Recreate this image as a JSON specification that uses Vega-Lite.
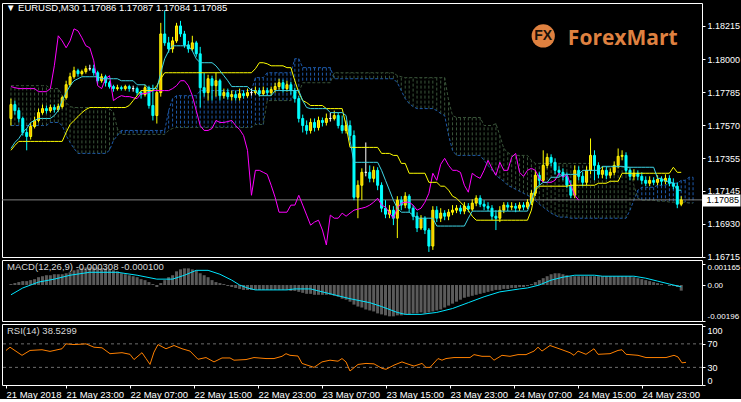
{
"$schema": "https://vega.github.io/schema/vega-lite/v6.json",
"background": "#000000",
"padding": {"left": 1, "top": 2, "right": -6, "bottom": 0},
"bounds": "flush",
"spacing": 3,
"config": {
  "view": {"stroke": "#FFFFFF", "strokeWidth": 1},
  "axis": {"labelFont": "Liberation Sans", "labelFontSize": 9, "labelColor": "#FFFFFF", "tickColor": "#FFFFFF", "tickSize": 3, "labelPadding": 2, "domain": false, "grid": false, "title": null, "labelOverlap": false, "labelFlush": false, "labelBound": false},
  "title": {"font": "Liberation Sans", "fontSize": 9.5, "fontWeight": "normal", "anchor": "start", "frame": "group", "baseline": "middle"}
},
"datasets": {
"bars": [
{"i":0,"open":1.17614,"high":1.17743,"low":1.17568,"close":1.17704,"tenkan":1.17419,"kijun":1.17407,"chikou":1.17821,"spanA":1.17568,"spanB":1.17827,"macd":0.000054},
{"i":1,"open":1.17704,"high":1.1773,"low":1.17639,"close":1.17665,"tenkan":1.17458,"kijun":1.17439,"chikou":1.17814,"spanA":1.17568,"spanB":1.17827,"macd":0.000107},
{"i":2,"open":1.17665,"high":1.17685,"low":1.17588,"close":1.17614,"tenkan":1.17484,"kijun":1.17465,"chikou":1.17808,"spanA":1.17568,"spanB":1.17827,"macd":0.000161},
{"i":3,"open":1.17614,"high":1.17626,"low":1.17503,"close":1.17523,"tenkan":1.17523,"kijun":1.17465,"chikou":1.17808,"spanA":1.17568,"spanB":1.17827,"macd":0.000214},
{"i":4,"open":1.17523,"high":1.17549,"low":1.17407,"close":1.17497,"tenkan":1.17549,"kijun":1.17465,"chikou":1.17808,"spanA":1.17568,"spanB":1.17827,"macd":0.000214},
{"i":5,"open":1.17497,"high":1.17588,"low":1.17477,"close":1.17562,"tenkan":1.17588,"kijun":1.17465,"chikou":1.17808,"spanA":1.17568,"spanB":1.17827,"macd":0.000268},
{"i":6,"open":1.17562,"high":1.17626,"low":1.17549,"close":1.17601,"tenkan":1.17601,"kijun":1.17465,"chikou":1.17808,"spanA":1.17568,"spanB":1.17827,"macd":0.000322},
{"i":7,"open":1.17601,"high":1.17678,"low":1.17588,"close":1.17652,"tenkan":1.17614,"kijun":1.17465,"chikou":1.17788,"spanA":1.17568,"spanB":1.17827,"macd":0.000429},
{"i":8,"open":1.17652,"high":1.17704,"low":1.17639,"close":1.17678,"tenkan":1.17614,"kijun":1.17465,"chikou":1.17788,"spanA":1.17568,"spanB":1.17827,"macd":0.000482},
{"i":9,"open":1.17678,"high":1.17698,"low":1.17646,"close":1.17665,"tenkan":1.17614,"kijun":1.17465,"chikou":1.17788,"spanA":1.17568,"spanB":1.17827,"macd":0.000536},
{"i":10,"open":1.17665,"high":1.17704,"low":1.17652,"close":1.17685,"tenkan":1.17614,"kijun":1.17465,"chikou":1.17808,"spanA":1.17588,"spanB":1.17808,"macd":0.000536},
{"i":11,"open":1.17685,"high":1.17704,"low":1.17652,"close":1.17672,"tenkan":1.17633,"kijun":1.17465,"chikou":1.17956,"spanA":1.17588,"spanB":1.17808,"macd":0.00059},
{"i":12,"open":1.17672,"high":1.17711,"low":1.17659,"close":1.17691,"tenkan":1.17665,"kijun":1.17465,"chikou":1.18151,"spanA":1.17588,"spanB":1.17808,"macd":0.00059},
{"i":13,"open":1.17691,"high":1.17762,"low":1.17678,"close":1.17749,"tenkan":1.1773,"kijun":1.17465,"chikou":1.18118,"spanA":1.17568,"spanB":1.17762,"macd":0.00059},
{"i":14,"open":1.17749,"high":1.17859,"low":1.17736,"close":1.17833,"tenkan":1.17782,"kijun":1.17523,"chikou":1.18073,"spanA":1.17503,"spanB":1.17717,"macd":0.000643},
{"i":15,"open":1.17833,"high":1.17911,"low":1.17821,"close":1.17885,"tenkan":1.17827,"kijun":1.17575,"chikou":1.18118,"spanA":1.17458,"spanB":1.17691,"macd":0.000697},
{"i":16,"open":1.17885,"high":1.1795,"low":1.17872,"close":1.17924,"tenkan":1.17859,"kijun":1.17601,"chikou":1.18196,"spanA":1.17419,"spanB":1.17685,"macd":0.000804},
{"i":17,"open":1.17924,"high":1.17937,"low":1.17885,"close":1.17905,"tenkan":1.17872,"kijun":1.17626,"chikou":1.18183,"spanA":1.17387,"spanB":1.17685,"macd":0.000858},
{"i":18,"open":1.17905,"high":1.17931,"low":1.17892,"close":1.17918,"tenkan":1.17885,"kijun":1.17652,"chikou":1.18138,"spanA":1.17387,"spanB":1.17685,"macd":0.000911},
{"i":19,"open":1.17918,"high":1.17956,"low":1.17905,"close":1.17937,"tenkan":1.17885,"kijun":1.17672,"chikou":1.18086,"spanA":1.17387,"spanB":1.17685,"macd":0.000965},
{"i":20,"open":1.17937,"high":1.17963,"low":1.17924,"close":1.17937,"tenkan":1.17885,"kijun":1.17685,"chikou":1.18073,"spanA":1.17387,"spanB":1.17685,"macd":0.000965},
{"i":21,"open":1.17937,"high":1.17963,"low":1.17892,"close":1.17911,"tenkan":1.17885,"kijun":1.17685,"chikou":1.17989,"spanA":1.17387,"spanB":1.17685,"macd":0.000965},
{"i":22,"open":1.17911,"high":1.17924,"low":1.1784,"close":1.17859,"tenkan":1.17885,"kijun":1.17685,"chikou":1.17827,"spanA":1.17387,"spanB":1.17685,"macd":0.000965},
{"i":23,"open":1.17859,"high":1.17905,"low":1.17846,"close":1.17885,"tenkan":1.17872,"kijun":1.17685,"chikou":1.17808,"spanA":1.17387,"spanB":1.17685,"macd":0.000911},
{"i":24,"open":1.17885,"high":1.17898,"low":1.17821,"close":1.17846,"tenkan":1.17872,"kijun":1.17685,"chikou":1.17872,"spanA":1.17387,"spanB":1.17685,"macd":0.000911},
{"i":25,"open":1.17846,"high":1.17859,"low":1.17808,"close":1.17821,"tenkan":1.17872,"kijun":1.17685,"chikou":1.17892,"spanA":1.17407,"spanB":1.17678,"macd":0.000858},
{"i":26,"open":1.17821,"high":1.17833,"low":1.17788,"close":1.17808,"tenkan":1.17872,"kijun":1.17685,"chikou":1.1773,"spanA":1.17471,"spanB":1.17652,"macd":0.000804},
{"i":27,"open":1.17808,"high":1.17833,"low":1.17795,"close":1.17814,"tenkan":1.17872,"kijun":1.17685,"chikou":1.17749,"spanA":1.17503,"spanB":1.17549,"macd":0.00075},
{"i":28,"open":1.17814,"high":1.17827,"low":1.17795,"close":1.17808,"tenkan":1.17859,"kijun":1.17685,"chikou":1.17762,"spanA":1.17536,"spanB":1.1751,"macd":0.000643},
{"i":29,"open":1.17808,"high":1.17833,"low":1.17795,"close":1.17821,"tenkan":1.17859,"kijun":1.17685,"chikou":1.17756,"spanA":1.17536,"spanB":1.1751,"macd":0.00059},
{"i":30,"open":1.17821,"high":1.17833,"low":1.17788,"close":1.17808,"tenkan":1.17859,"kijun":1.17698,"chikou":1.17756,"spanA":1.17536,"spanB":1.1751,"macd":0.000536},
{"i":31,"open":1.17808,"high":1.17827,"low":1.17788,"close":1.17808,"tenkan":1.17859,"kijun":1.1773,"chikou":1.17749,"spanA":1.17536,"spanB":1.1751,"macd":0.000482},
{"i":32,"open":1.17808,"high":1.17821,"low":1.17762,"close":1.17782,"tenkan":1.17833,"kijun":1.17762,"chikou":1.17743,"spanA":1.17536,"spanB":1.1751,"macd":0.000429},
{"i":33,"open":1.17782,"high":1.17795,"low":1.17743,"close":1.17769,"tenkan":1.17833,"kijun":1.17795,"chikou":1.17775,"spanA":1.17536,"spanB":1.1751,"macd":0.000322},
{"i":34,"open":1.17769,"high":1.17833,"low":1.17756,"close":1.17814,"tenkan":1.17833,"kijun":1.17795,"chikou":1.17775,"spanA":1.17536,"spanB":1.1751,"macd":0.000268},
{"i":35,"open":1.17814,"high":1.17827,"low":1.17678,"close":1.17698,"tenkan":1.17808,"kijun":1.17795,"chikou":1.17782,"spanA":1.17536,"spanB":1.1751,"macd":0.000161},
{"i":36,"open":1.17698,"high":1.17833,"low":1.17601,"close":1.17633,"tenkan":1.17808,"kijun":1.17795,"chikou":1.17795,"spanA":1.17536,"spanB":1.1751,"macd":0.000054},
{"i":37,"open":1.17633,"high":1.17808,"low":1.17581,"close":1.17782,"tenkan":1.17808,"kijun":1.17827,"chikou":1.17795,"spanA":1.17536,"spanB":1.1751,"macd":-0.000107},
{"i":38,"open":1.17782,"high":1.18235,"low":1.17756,"close":1.18163,"tenkan":1.17911,"kijun":1.17872,"chikou":1.17795,"spanA":1.17536,"spanB":1.1751,"macd":0.000107},
{"i":39,"open":1.18163,"high":1.18312,"low":1.18086,"close":1.18105,"tenkan":1.18002,"kijun":1.17911,"chikou":1.17795,"spanA":1.17536,"spanB":1.1751,"macd":0.000268},
{"i":40,"open":1.18105,"high":1.18144,"low":1.18041,"close":1.18066,"tenkan":1.18053,"kijun":1.17911,"chikou":1.17795,"spanA":1.17665,"spanB":1.17536,"macd":0.000429},
{"i":41,"open":1.18066,"high":1.18144,"low":1.18041,"close":1.18118,"tenkan":1.18086,"kijun":1.17911,"chikou":1.17808,"spanA":1.17743,"spanB":1.17549,"macd":0.000536},
{"i":42,"open":1.18118,"high":1.18235,"low":1.18105,"close":1.18215,"tenkan":1.18086,"kijun":1.17911,"chikou":1.17827,"spanA":1.17762,"spanB":1.17555,"macd":0.00075},
{"i":43,"open":1.18215,"high":1.18248,"low":1.18144,"close":1.18163,"tenkan":1.18086,"kijun":1.17911,"chikou":1.17859,"spanA":1.17762,"spanB":1.17555,"macd":0.000858},
{"i":44,"open":1.18163,"high":1.18183,"low":1.18073,"close":1.18092,"tenkan":1.18086,"kijun":1.17911,"chikou":1.17859,"spanA":1.17762,"spanB":1.17555,"macd":0.000911},
{"i":45,"open":1.18092,"high":1.18118,"low":1.18041,"close":1.18066,"tenkan":1.18086,"kijun":1.17911,"chikou":1.17827,"spanA":1.17762,"spanB":1.17555,"macd":0.000911},
{"i":46,"open":1.18066,"high":1.18151,"low":1.18053,"close":1.18105,"tenkan":1.18053,"kijun":1.17911,"chikou":1.17762,"spanA":1.17762,"spanB":1.17555,"macd":0.000858},
{"i":47,"open":1.18105,"high":1.18118,"low":1.18015,"close":1.18034,"tenkan":1.18002,"kijun":1.17911,"chikou":1.17665,"spanA":1.17762,"spanB":1.17555,"macd":0.000804},
{"i":48,"open":1.18034,"high":1.18079,"low":1.17685,"close":1.17814,"tenkan":1.17976,"kijun":1.17911,"chikou":1.17568,"spanA":1.17795,"spanB":1.17555,"macd":0.000643},
{"i":49,"open":1.17814,"high":1.17911,"low":1.17756,"close":1.17782,"tenkan":1.17976,"kijun":1.17911,"chikou":1.17536,"spanA":1.17795,"spanB":1.17555,"macd":0.000536},
{"i":50,"open":1.17782,"high":1.17898,"low":1.1773,"close":1.17872,"tenkan":1.17976,"kijun":1.17911,"chikou":1.17536,"spanA":1.17795,"spanB":1.17555,"macd":0.000429},
{"i":51,"open":1.17872,"high":1.17892,"low":1.1773,"close":1.17827,"tenkan":1.17976,"kijun":1.17911,"chikou":1.17549,"spanA":1.17795,"spanB":1.17555,"macd":0.000268},
{"i":52,"open":1.17827,"high":1.17911,"low":1.17756,"close":1.17859,"tenkan":1.17956,"kijun":1.17911,"chikou":1.17601,"spanA":1.17795,"spanB":1.17555,"macd":0.000161},
{"i":53,"open":1.17859,"high":1.17872,"low":1.1773,"close":1.17762,"tenkan":1.17924,"kijun":1.17911,"chikou":1.17588,"spanA":1.17795,"spanB":1.17555,"macd":0.000107},
{"i":54,"open":1.17762,"high":1.17808,"low":1.17743,"close":1.17782,"tenkan":1.17892,"kijun":1.17911,"chikou":1.17588,"spanA":1.17795,"spanB":1.17555,"macd":0.000054},
{"i":55,"open":1.17782,"high":1.17808,"low":1.17736,"close":1.17756,"tenkan":1.17859,"kijun":1.17911,"chikou":1.17594,"spanA":1.17795,"spanB":1.17555,"macd":-0.000054},
{"i":56,"open":1.17756,"high":1.17795,"low":1.1773,"close":1.17769,"tenkan":1.17821,"kijun":1.17911,"chikou":1.17601,"spanA":1.17795,"spanB":1.17555,"macd":-0.000107},
{"i":57,"open":1.17769,"high":1.17795,"low":1.1773,"close":1.17749,"tenkan":1.17821,"kijun":1.17911,"chikou":1.17568,"spanA":1.17795,"spanB":1.17555,"macd":-0.000161},
{"i":58,"open":1.17749,"high":1.17808,"low":1.1773,"close":1.17775,"tenkan":1.17821,"kijun":1.17911,"chikou":1.17542,"spanA":1.17795,"spanB":1.17555,"macd":-0.000214},
{"i":59,"open":1.17775,"high":1.17795,"low":1.17743,"close":1.17762,"tenkan":1.17821,"kijun":1.17911,"chikou":1.17503,"spanA":1.17795,"spanB":1.17555,"macd":-0.000268},
{"i":60,"open":1.17762,"high":1.17808,"low":1.17749,"close":1.17782,"tenkan":1.17821,"kijun":1.17911,"chikou":1.17407,"spanA":1.17795,"spanB":1.17555,"macd":-0.000268},
{"i":61,"open":1.17782,"high":1.17808,"low":1.17762,"close":1.17782,"tenkan":1.17795,"kijun":1.17911,"chikou":1.17115,"spanA":1.17795,"spanB":1.17555,"macd":-0.000268},
{"i":62,"open":1.17782,"high":1.17821,"low":1.17769,"close":1.17795,"tenkan":1.17795,"kijun":1.17937,"chikou":1.17277,"spanA":1.17879,"spanB":1.17575,"macd":-0.000268},
{"i":63,"open":1.17795,"high":1.17814,"low":1.17756,"close":1.17775,"tenkan":1.17762,"kijun":1.17976,"chikou":1.17277,"spanA":1.17879,"spanB":1.17575,"macd":-0.000268},
{"i":64,"open":1.17775,"high":1.17821,"low":1.17762,"close":1.17795,"tenkan":1.17762,"kijun":1.17976,"chikou":1.17264,"spanA":1.17879,"spanB":1.17575,"macd":-0.000268},
{"i":65,"open":1.17795,"high":1.17814,"low":1.17762,"close":1.17782,"tenkan":1.17762,"kijun":1.17969,"chikou":1.17251,"spanA":1.17911,"spanB":1.1773,"macd":-0.000268},
{"i":66,"open":1.17782,"high":1.17821,"low":1.17762,"close":1.17801,"tenkan":1.17762,"kijun":1.17956,"chikou":1.1718,"spanA":1.17911,"spanB":1.1773,"macd":-0.000268},
{"i":67,"open":1.17801,"high":1.17846,"low":1.17782,"close":1.17821,"tenkan":1.17795,"kijun":1.17956,"chikou":1.17102,"spanA":1.17911,"spanB":1.1773,"macd":-0.000268},
{"i":68,"open":1.17821,"high":1.17872,"low":1.17801,"close":1.17846,"tenkan":1.17795,"kijun":1.17956,"chikou":1.17005,"spanA":1.17911,"spanB":1.1773,"macd":-0.000268},
{"i":69,"open":1.17846,"high":1.17866,"low":1.17782,"close":1.17808,"tenkan":1.17795,"kijun":1.17956,"chikou":1.17005,"spanA":1.17911,"spanB":1.1773,"macd":-0.000268},
{"i":70,"open":1.17808,"high":1.17859,"low":1.17788,"close":1.17833,"tenkan":1.17795,"kijun":1.17944,"chikou":1.17005,"spanA":1.17911,"spanB":1.1773,"macd":-0.000268},
{"i":71,"open":1.17833,"high":1.17853,"low":1.17769,"close":1.17795,"tenkan":1.17795,"kijun":1.17944,"chikou":1.17051,"spanA":1.17911,"spanB":1.1773,"macd":-0.000322},
{"i":72,"open":1.17795,"high":1.17814,"low":1.17717,"close":1.17743,"tenkan":1.17795,"kijun":1.17859,"chikou":1.17051,"spanA":1.18002,"spanB":1.17782,"macd":-0.000322},
{"i":73,"open":1.17743,"high":1.17762,"low":1.17588,"close":1.17614,"tenkan":1.17795,"kijun":1.17782,"chikou":1.17115,"spanA":1.18002,"spanB":1.17782,"macd":-0.000375},
{"i":74,"open":1.17614,"high":1.17639,"low":1.17523,"close":1.17568,"tenkan":1.1773,"kijun":1.1773,"chikou":1.17051,"spanA":1.17944,"spanB":1.17846,"macd":-0.000429},
{"i":75,"open":1.17568,"high":1.17601,"low":1.1751,"close":1.17536,"tenkan":1.17685,"kijun":1.17717,"chikou":1.16986,"spanA":1.17944,"spanB":1.17846,"macd":-0.000482},
{"i":76,"open":1.17536,"high":1.17614,"low":1.17516,"close":1.17588,"tenkan":1.17678,"kijun":1.17698,"chikou":1.16921,"spanA":1.17944,"spanB":1.17846,"macd":-0.000482},
{"i":77,"open":1.17588,"high":1.17614,"low":1.17529,"close":1.17555,"tenkan":1.17678,"kijun":1.17698,"chikou":1.16941,"spanA":1.17944,"spanB":1.17846,"macd":-0.000536},
{"i":78,"open":1.17555,"high":1.17626,"low":1.17536,"close":1.17601,"tenkan":1.17678,"kijun":1.17698,"chikou":1.16953,"spanA":1.17944,"spanB":1.17846,"macd":-0.000536},
{"i":79,"open":1.17601,"high":1.1762,"low":1.17562,"close":1.17588,"tenkan":1.17678,"kijun":1.17698,"chikou":1.16889,"spanA":1.17944,"spanB":1.17846,"macd":-0.000536},
{"i":80,"open":1.17588,"high":1.17646,"low":1.17568,"close":1.17614,"tenkan":1.17678,"kijun":1.17678,"chikou":1.16792,"spanA":1.17944,"spanB":1.17846,"macd":-0.000536},
{"i":81,"open":1.17614,"high":1.17652,"low":1.17594,"close":1.17614,"tenkan":1.17652,"kijun":1.17678,"chikou":1.16986,"spanA":1.17944,"spanB":1.17846,"macd":-0.000536},
{"i":82,"open":1.17614,"high":1.17665,"low":1.17601,"close":1.17633,"tenkan":1.17652,"kijun":1.17678,"chikou":1.16966,"spanA":1.17872,"spanB":1.17911,"macd":-0.00059},
{"i":83,"open":1.17633,"high":1.17652,"low":1.17549,"close":1.17568,"tenkan":1.17652,"kijun":1.17678,"chikou":1.16966,"spanA":1.17872,"spanB":1.17911,"macd":-0.000643},
{"i":84,"open":1.17568,"high":1.17633,"low":1.17516,"close":1.17536,"tenkan":1.17652,"kijun":1.17678,"chikou":1.16999,"spanA":1.17872,"spanB":1.17911,"macd":-0.00075},
{"i":85,"open":1.17536,"high":1.17601,"low":1.17516,"close":1.17568,"tenkan":1.17633,"kijun":1.17568,"chikou":1.16979,"spanA":1.17872,"spanB":1.17911,"macd":-0.000804},
{"i":86,"open":1.17568,"high":1.17601,"low":1.17471,"close":1.17503,"tenkan":1.17471,"kijun":1.17426,"chikou":1.16999,"spanA":1.17872,"spanB":1.17911,"macd":-0.000911},
{"i":87,"open":1.17503,"high":1.17536,"low":1.17083,"close":1.17102,"tenkan":1.17329,"kijun":1.17426,"chikou":1.17018,"spanA":1.17872,"spanB":1.17911,"macd":-0.001072},
{"i":88,"open":1.17102,"high":1.17212,"low":1.16966,"close":1.1718,"tenkan":1.17329,"kijun":1.17426,"chikou":1.17025,"spanA":1.17872,"spanB":1.17911,"macd":-0.001179},
{"i":89,"open":1.1718,"high":1.1729,"low":1.17083,"close":1.17264,"tenkan":1.17329,"kijun":1.17426,"chikou":1.17031,"spanA":1.17872,"spanB":1.17911,"macd":-0.001233},
{"i":90,"open":1.17264,"high":1.17458,"low":1.17238,"close":1.17264,"tenkan":1.17329,"kijun":1.17426,"chikou":1.17038,"spanA":1.17872,"spanB":1.17911,"macd":-0.00134},
{"i":91,"open":1.17264,"high":1.17309,"low":1.17199,"close":1.17225,"tenkan":1.17329,"kijun":1.17426,"chikou":1.17051,"spanA":1.17872,"spanB":1.17911,"macd":-0.001394},
{"i":92,"open":1.17225,"high":1.17303,"low":1.17199,"close":1.17277,"tenkan":1.17329,"kijun":1.17426,"chikou":1.1707,"spanA":1.17872,"spanB":1.17911,"macd":-0.001447},
{"i":93,"open":1.17277,"high":1.17297,"low":1.17148,"close":1.1718,"tenkan":1.17329,"kijun":1.17426,"chikou":1.17096,"spanA":1.17872,"spanB":1.17911,"macd":-0.001554},
{"i":94,"open":1.1718,"high":1.17199,"low":1.17005,"close":1.17031,"tenkan":1.17277,"kijun":1.17387,"chikou":1.17051,"spanA":1.17872,"spanB":1.17911,"macd":-0.001608},
{"i":95,"open":1.17031,"high":1.17083,"low":1.16966,"close":1.16992,"tenkan":1.17212,"kijun":1.17387,"chikou":1.17038,"spanA":1.17872,"spanB":1.17911,"macd":-0.001662},
{"i":96,"open":1.16992,"high":1.17051,"low":1.16966,"close":1.17018,"tenkan":1.17148,"kijun":1.17387,"chikou":1.16999,"spanA":1.17872,"spanB":1.17911,"macd":-0.001715},
{"i":97,"open":1.17018,"high":1.17044,"low":1.16921,"close":1.16966,"tenkan":1.17083,"kijun":1.17374,"chikou":1.16966,"spanA":1.17872,"spanB":1.17911,"macd":-0.001715},
{"i":98,"open":1.16966,"high":1.17109,"low":1.16837,"close":1.17083,"tenkan":1.17031,"kijun":1.17374,"chikou":1.17031,"spanA":1.17846,"spanB":1.17892,"macd":-0.001662},
{"i":99,"open":1.17083,"high":1.17109,"low":1.17018,"close":1.17051,"tenkan":1.17005,"kijun":1.17322,"chikou":1.17064,"spanA":1.17795,"spanB":1.17885,"macd":-0.001662},
{"i":100,"open":1.17051,"high":1.17135,"low":1.17031,"close":1.17109,"tenkan":1.17005,"kijun":1.17322,"chikou":1.1707,"spanA":1.17743,"spanB":1.17879,"macd":-0.001608},
{"i":101,"open":1.17109,"high":1.17122,"low":1.17005,"close":1.17031,"tenkan":1.17005,"kijun":1.17258,"chikou":1.1707,"spanA":1.17711,"spanB":1.17879,"macd":-0.001608},
{"i":102,"open":1.17031,"high":1.17051,"low":1.16953,"close":1.16979,"tenkan":1.16986,"kijun":1.17258,"chikou":1.17051,"spanA":1.17691,"spanB":1.17879,"macd":-0.001554},
{"i":103,"open":1.16979,"high":1.17005,"low":1.16876,"close":1.16902,"tenkan":1.16966,"kijun":1.17258,"chikou":1.17018,"spanA":1.17678,"spanB":1.17879,"macd":-0.001554},
{"i":104,"open":1.16902,"high":1.16986,"low":1.16889,"close":1.16966,"tenkan":1.16966,"kijun":1.17258,"chikou":1.17031,"spanA":1.17678,"spanB":1.17879,"macd":-0.001501},
{"i":105,"open":1.16966,"high":1.16979,"low":1.16863,"close":1.16889,"tenkan":1.16966,"kijun":1.17258,"chikou":1.1707,"spanA":1.17678,"spanB":1.17879,"macd":-0.001554},
{"i":106,"open":1.16889,"high":1.16902,"low":1.16747,"close":1.16785,"tenkan":1.16966,"kijun":1.17199,"chikou":1.17128,"spanA":1.17678,"spanB":1.17879,"macd":-0.001501},
{"i":107,"open":1.16785,"high":1.17044,"low":1.1676,"close":1.17018,"tenkan":1.16966,"kijun":1.17199,"chikou":1.17258,"spanA":1.17678,"spanB":1.17879,"macd":-0.001447},
{"i":108,"open":1.17018,"high":1.17044,"low":1.16941,"close":1.16966,"tenkan":1.16915,"kijun":1.17199,"chikou":1.17212,"spanA":1.17665,"spanB":1.17879,"macd":-0.001394},
{"i":109,"open":1.16966,"high":1.17031,"low":1.16941,"close":1.16999,"tenkan":1.16915,"kijun":1.17174,"chikou":1.17316,"spanA":1.17646,"spanB":1.17879,"macd":-0.00134},
{"i":110,"open":1.16999,"high":1.17018,"low":1.16953,"close":1.16979,"tenkan":1.16915,"kijun":1.17174,"chikou":1.17355,"spanA":1.17633,"spanB":1.17879,"macd":-0.001233},
{"i":111,"open":1.16979,"high":1.17025,"low":1.16953,"close":1.17005,"tenkan":1.16915,"kijun":1.17148,"chikou":1.17309,"spanA":1.17503,"spanB":1.1773,"macd":-0.001126},
{"i":112,"open":1.17005,"high":1.17051,"low":1.16986,"close":1.17018,"tenkan":1.16915,"kijun":1.17109,"chikou":1.17277,"spanA":1.17407,"spanB":1.17633,"macd":-0.001018},
{"i":113,"open":1.17018,"high":1.17051,"low":1.16999,"close":1.17031,"tenkan":1.16915,"kijun":1.17096,"chikou":1.17277,"spanA":1.17374,"spanB":1.1762,"macd":-0.000911},
{"i":114,"open":1.17031,"high":1.17051,"low":1.16992,"close":1.17012,"tenkan":1.16915,"kijun":1.1707,"chikou":1.17264,"spanA":1.17374,"spanB":1.1762,"macd":-0.000804},
{"i":115,"open":1.17012,"high":1.1707,"low":1.16992,"close":1.17044,"tenkan":1.16915,"kijun":1.17044,"chikou":1.1718,"spanA":1.17374,"spanB":1.1762,"macd":-0.000697},
{"i":116,"open":1.17044,"high":1.17064,"low":1.17005,"close":1.17025,"tenkan":1.16966,"kijun":1.17018,"chikou":1.17135,"spanA":1.17374,"spanB":1.1762,"macd":-0.000643},
{"i":117,"open":1.17025,"high":1.17089,"low":1.17012,"close":1.17064,"tenkan":1.17012,"kijun":1.16979,"chikou":1.17258,"spanA":1.17374,"spanB":1.1762,"macd":-0.00059},
{"i":118,"open":1.17064,"high":1.17115,"low":1.17044,"close":1.17096,"tenkan":1.17012,"kijun":1.16953,"chikou":1.17238,"spanA":1.17374,"spanB":1.1762,"macd":-0.000536},
{"i":119,"open":1.17096,"high":1.17115,"low":1.17038,"close":1.17057,"tenkan":1.17012,"kijun":1.16953,"chikou":1.17225,"spanA":1.17374,"spanB":1.1762,"macd":-0.000482},
{"i":120,"open":1.17057,"high":1.17083,"low":1.17018,"close":1.17044,"tenkan":1.17012,"kijun":1.16953,"chikou":1.17277,"spanA":1.17342,"spanB":1.17568,"macd":-0.000429},
{"i":121,"open":1.17044,"high":1.1707,"low":1.17012,"close":1.17031,"tenkan":1.17012,"kijun":1.16953,"chikou":1.17342,"spanA":1.17309,"spanB":1.17568,"macd":-0.000375},
{"i":122,"open":1.17031,"high":1.17051,"low":1.16953,"close":1.16979,"tenkan":1.17012,"kijun":1.16953,"chikou":1.1729,"spanA":1.17277,"spanB":1.17568,"macd":-0.000322},
{"i":123,"open":1.16979,"high":1.17018,"low":1.16889,"close":1.16966,"tenkan":1.17012,"kijun":1.16953,"chikou":1.17245,"spanA":1.17245,"spanB":1.17581,"macd":-0.000268},
{"i":124,"open":1.16966,"high":1.17044,"low":1.16941,"close":1.17018,"tenkan":1.17012,"kijun":1.16953,"chikou":1.17329,"spanA":1.17225,"spanB":1.17503,"macd":-0.000268},
{"i":125,"open":1.17018,"high":1.1707,"low":1.16999,"close":1.17051,"tenkan":1.17012,"kijun":1.16953,"chikou":1.17277,"spanA":1.17206,"spanB":1.17419,"macd":-0.000214},
{"i":126,"open":1.17051,"high":1.1707,"low":1.17012,"close":1.17038,"tenkan":1.17012,"kijun":1.16953,"chikou":1.17277,"spanA":1.1718,"spanB":1.17394,"macd":-0.000214},
{"i":127,"open":1.17038,"high":1.1707,"low":1.17018,"close":1.17044,"tenkan":1.17012,"kijun":1.16953,"chikou":1.17361,"spanA":1.17167,"spanB":1.17374,"macd":-0.000161},
{"i":128,"open":1.17044,"high":1.17064,"low":1.17005,"close":1.17031,"tenkan":1.17012,"kijun":1.16953,"chikou":1.17387,"spanA":1.17154,"spanB":1.17374,"macd":-0.000161},
{"i":129,"open":1.17031,"high":1.1707,"low":1.17012,"close":1.17051,"tenkan":1.17012,"kijun":1.16953,"chikou":1.17264,"spanA":1.17141,"spanB":1.17374,"macd":-0.000107},
{"i":130,"open":1.17051,"high":1.1707,"low":1.17018,"close":1.17038,"tenkan":1.17012,"kijun":1.16953,"chikou":1.17238,"spanA":1.17128,"spanB":1.17374,"macd":-0.000107},
{"i":131,"open":1.17038,"high":1.17089,"low":1.17025,"close":1.1707,"tenkan":1.17012,"kijun":1.16953,"chikou":1.17277,"spanA":1.17115,"spanB":1.17374,"macd":-0.000054},
{"i":132,"open":1.1707,"high":1.17148,"low":1.17051,"close":1.17128,"tenkan":1.17083,"kijun":1.17018,"chikou":1.1729,"spanA":1.17102,"spanB":1.17342,"macd":0.000054},
{"i":133,"open":1.17128,"high":1.17277,"low":1.17109,"close":1.17245,"tenkan":1.17161,"kijun":1.17148,"chikou":1.17277,"spanA":1.17083,"spanB":1.17322,"macd":0.000161},
{"i":134,"open":1.17245,"high":1.17264,"low":1.1718,"close":1.17212,"tenkan":1.1718,"kijun":1.17174,"chikou":1.17225,"spanA":1.17057,"spanB":1.17322,"macd":0.000268},
{"i":135,"open":1.17212,"high":1.17407,"low":1.17199,"close":1.17309,"tenkan":1.17199,"kijun":1.17174,"chikou":1.17199,"spanA":1.17038,"spanB":1.17322,"macd":0.000375},
{"i":136,"open":1.17309,"high":1.17387,"low":1.1729,"close":1.17361,"tenkan":1.17199,"kijun":1.17174,"chikou":1.17199,"spanA":1.17018,"spanB":1.17322,"macd":0.000482},
{"i":137,"open":1.17361,"high":1.17381,"low":1.17303,"close":1.17329,"tenkan":1.17232,"kijun":1.17174,"chikou":1.17199,"spanA":1.16999,"spanB":1.17322,"macd":0.00059},
{"i":138,"open":1.17329,"high":1.17355,"low":1.17251,"close":1.17277,"tenkan":1.17232,"kijun":1.17174,"chikou":1.17212,"spanA":1.16986,"spanB":1.17322,"macd":0.000643},
{"i":139,"open":1.17277,"high":1.17303,"low":1.17238,"close":1.17264,"tenkan":1.17232,"kijun":1.17174,"chikou":1.17258,"spanA":1.16973,"spanB":1.17322,"macd":0.000643},
{"i":140,"open":1.17264,"high":1.1729,"low":1.17212,"close":1.17238,"tenkan":1.17251,"kijun":1.17174,"chikou":1.17232,"spanA":1.16973,"spanB":1.17322,"macd":0.00059},
{"i":141,"open":1.17238,"high":1.17264,"low":1.17161,"close":1.1718,"tenkan":1.17251,"kijun":1.17174,"chikou":1.17251,"spanA":1.16973,"spanB":1.17322,"macd":0.000536},
{"i":142,"open":1.1718,"high":1.17212,"low":1.17096,"close":1.17115,"tenkan":1.17251,"kijun":1.1718,"chikou":1.1718,"spanA":1.16966,"spanB":1.17322,"macd":0.000482},
{"i":143,"open":1.17115,"high":1.17309,"low":1.17096,"close":1.17277,"tenkan":1.17251,"kijun":1.1718,"chikou":1.17115,"spanA":1.16966,"spanB":1.17322,"macd":0.000482},
{"i":144,"open":1.17277,"high":1.17303,"low":1.17212,"close":1.17238,"tenkan":1.17251,"kijun":1.1718,"chikou":1.17083,"spanA":1.16966,"spanB":1.17322,"macd":0.000482},
{"i":145,"open":1.17238,"high":1.17264,"low":1.17174,"close":1.17199,"tenkan":1.17277,"kijun":1.1718,"spanA":1.16966,"spanB":1.17322,"macd":0.000482},
{"i":146,"open":1.17199,"high":1.17303,"low":1.1718,"close":1.17277,"tenkan":1.17277,"kijun":1.1718,"spanA":1.16966,"spanB":1.17322,"macd":0.000482},
{"i":147,"open":1.17277,"high":1.17484,"low":1.17251,"close":1.17374,"tenkan":1.17277,"kijun":1.1718,"spanA":1.16966,"spanB":1.17322,"macd":0.000482},
{"i":148,"open":1.17374,"high":1.17407,"low":1.17212,"close":1.17309,"tenkan":1.17277,"kijun":1.1718,"spanA":1.16966,"spanB":1.17322,"macd":0.000482},
{"i":149,"open":1.17309,"high":1.17329,"low":1.17225,"close":1.17251,"tenkan":1.17277,"kijun":1.17193,"spanA":1.16966,"spanB":1.17297,"macd":0.000482},
{"i":150,"open":1.17251,"high":1.17303,"low":1.17225,"close":1.17277,"tenkan":1.17303,"kijun":1.17193,"spanA":1.16966,"spanB":1.17297,"macd":0.000482},
{"i":151,"open":1.17277,"high":1.17303,"low":1.17219,"close":1.17245,"tenkan":1.17303,"kijun":1.17193,"spanA":1.16966,"spanB":1.17297,"macd":0.000482},
{"i":152,"open":1.17245,"high":1.1729,"low":1.17225,"close":1.17264,"tenkan":1.17303,"kijun":1.17206,"spanA":1.16966,"spanB":1.17297,"macd":0.000482},
{"i":153,"open":1.17264,"high":1.17335,"low":1.17245,"close":1.17309,"tenkan":1.17303,"kijun":1.17206,"spanA":1.16966,"spanB":1.17297,"macd":0.000482},
{"i":154,"open":1.17309,"high":1.17419,"low":1.1729,"close":1.17368,"tenkan":1.17303,"kijun":1.17206,"spanA":1.16966,"spanB":1.17297,"macd":0.000482},
{"i":155,"open":1.17368,"high":1.17407,"low":1.17342,"close":1.17374,"tenkan":1.17303,"kijun":1.17258,"spanA":1.16966,"spanB":1.17297,"macd":0.000482},
{"i":156,"open":1.17374,"high":1.17394,"low":1.17251,"close":1.17277,"tenkan":1.17297,"kijun":1.17258,"spanA":1.16966,"spanB":1.17297,"macd":0.000482},
{"i":157,"open":1.17277,"high":1.1729,"low":1.17212,"close":1.17238,"tenkan":1.17297,"kijun":1.17258,"spanA":1.17018,"spanB":1.17297,"macd":0.000482},
{"i":158,"open":1.17238,"high":1.17284,"low":1.17212,"close":1.17258,"tenkan":1.17297,"kijun":1.17258,"spanA":1.17083,"spanB":1.1718,"macd":0.000429},
{"i":159,"open":1.17258,"high":1.17277,"low":1.17212,"close":1.17238,"tenkan":1.17297,"kijun":1.17258,"spanA":1.17148,"spanB":1.17096,"macd":0.000375},
{"i":160,"open":1.17238,"high":1.17264,"low":1.17186,"close":1.17212,"tenkan":1.17297,"kijun":1.17258,"spanA":1.17167,"spanB":1.17083,"macd":0.000322},
{"i":161,"open":1.17212,"high":1.17238,"low":1.17174,"close":1.17193,"tenkan":1.17297,"kijun":1.17258,"spanA":1.17167,"spanB":1.17083,"macd":0.000268},
{"i":162,"open":1.17193,"high":1.17238,"low":1.17174,"close":1.17212,"tenkan":1.17297,"kijun":1.17258,"spanA":1.17167,"spanB":1.17083,"macd":0.000214},
{"i":163,"open":1.17212,"high":1.17232,"low":1.1718,"close":1.17199,"tenkan":1.17297,"kijun":1.17258,"spanA":1.17167,"spanB":1.17083,"macd":0.000161},
{"i":164,"open":1.17199,"high":1.17245,"low":1.1718,"close":1.17219,"tenkan":1.17225,"kijun":1.17258,"spanA":1.1718,"spanB":1.17077,"macd":0.000107},
{"i":165,"open":1.17219,"high":1.17238,"low":1.1718,"close":1.17206,"tenkan":1.17225,"kijun":1.17258,"spanA":1.1718,"spanB":1.17077,"macd":0.000054},
{"i":166,"open":1.17206,"high":1.17251,"low":1.17186,"close":1.17225,"tenkan":1.17206,"kijun":1.17258,"spanA":1.1718,"spanB":1.17077,"macd":0},
{"i":167,"open":1.17225,"high":1.17245,"low":1.17174,"close":1.17193,"tenkan":1.17206,"kijun":1.17258,"spanA":1.17193,"spanB":1.1707,"macd":-0.000054},
{"i":168,"open":1.17193,"high":1.17225,"low":1.17154,"close":1.17174,"tenkan":1.17193,"kijun":1.17297,"spanA":1.17193,"spanB":1.1707,"macd":-0.000054},
{"i":169,"open":1.17174,"high":1.17199,"low":1.17031,"close":1.17057,"tenkan":1.17148,"kijun":1.17264,"spanA":1.17193,"spanB":1.1707,"macd":-0.000107},
{"i":170,"open":1.17057,"high":1.17109,"low":1.17044,"close":1.17085,"tenkan":1.17148,"kijun":1.17264,"spanA":1.17212,"spanB":1.1707,"macd":-0.000308},
{"i":171,"spanA":1.17212,"spanB":1.1707},
{"i":172,"spanA":1.17232,"spanB":1.17064},
{"i":173,"spanA":1.17232,"spanB":1.17064}
],
"signal": [
{"i":0,"signal":-0.000536},{"i":3,"signal":-0.000161},{"i":7,"signal":0.000161},{"i":11,"signal":0.000322},{"i":15,"signal":0.000536},{"i":20,"signal":0.000697},{"i":27,"signal":0.000697},{"i":32,"signal":0.000536},{"i":37,"signal":0.000322},{"i":41,"signal":0.000322},{"i":44,"signal":0.000536},{"i":47,"signal":0.000804},{"i":50,"signal":0.000804},{"i":53,"signal":0.00059},{"i":56,"signal":0.000268},{"i":58,"signal":0},{"i":60,"signal":-0.000161},{"i":62,"signal":-0.000268},{"i":70,"signal":-0.000268},{"i":72,"signal":-0.000214},{"i":76,"signal":-0.000214},{"i":78,"signal":-0.000322},{"i":82,"signal":-0.000536},{"i":86,"signal":-0.00075},{"i":91,"signal":-0.000965},{"i":94,"signal":-0.001179},{"i":98,"signal":-0.001501},{"i":100,"signal":-0.001608},{"i":104,"signal":-0.001608},{"i":108,"signal":-0.001501},{"i":112,"signal":-0.001286},{"i":116,"signal":-0.000965},{"i":120,"signal":-0.000643},{"i":124,"signal":-0.000375},{"i":129,"signal":-0.000214},{"i":131,"signal":-0.000161},{"i":134,"signal":0},{"i":137,"signal":0.000268},{"i":140,"signal":0.000429},{"i":143,"signal":0.000536},{"i":148,"signal":0.000536},{"i":150,"signal":0.000482},{"i":158,"signal":0.000482},{"i":161,"signal":0.000375},{"i":164,"signal":0.000214},{"i":167,"signal":0.000054},{"i":170,"signal":-0.0001}
],
"rsi": [
{"i":0,"rsi":58.8},{"i":1,"rsi":64.3},{"i":4,"rsi":50.5},{"i":6,"rsi":58.8},{"i":9,"rsi":60},{"i":11,"rsi":57.2},{"i":14,"rsi":61.7},{"i":15,"rsi":70},{"i":17,"rsi":68.8},{"i":20,"rsi":70},{"i":22,"rsi":64.3},{"i":24,"rsi":63.3},{"i":26,"rsi":53.3},{"i":29,"rsi":55},{"i":31,"rsi":52.2},{"i":32,"rsi":43.3},{"i":34,"rsi":55},{"i":35,"rsi":45},{"i":36,"rsi":35},{"i":37,"rsi":56},{"i":38,"rsi":68.8},{"i":40,"rsi":61.7},{"i":42,"rsi":67.2},{"i":44,"rsi":61.7},{"i":46,"rsi":57.7},{"i":48,"rsi":43.8},{"i":50,"rsi":46.7},{"i":52,"rsi":39.3},{"i":54,"rsi":46},{"i":56,"rsi":46},{"i":57,"rsi":42.2},{"i":60,"rsi":43.3},{"i":62,"rsi":46.7},{"i":65,"rsi":45},{"i":67,"rsi":45},{"i":69,"rsi":48.8},{"i":70,"rsi":53.3},{"i":71,"rsi":50.5},{"i":73,"rsi":49.3},{"i":74,"rsi":36.7},{"i":77,"rsi":30},{"i":79,"rsi":39.3},{"i":81,"rsi":42.2},{"i":83,"rsi":40.5},{"i":84,"rsi":45},{"i":85,"rsi":39.3},{"i":86,"rsi":23.8},{"i":88,"rsi":35},{"i":90,"rsi":36.7},{"i":92,"rsi":36},{"i":94,"rsi":28.3},{"i":95,"rsi":26.7},{"i":97,"rsi":33.8},{"i":99,"rsi":39.3},{"i":100,"rsi":36.7},{"i":102,"rsi":32.2},{"i":104,"rsi":36.7},{"i":105,"rsi":30},{"i":106,"rsi":30},{"i":108,"rsi":45},{"i":109,"rsi":42.2},{"i":110,"rsi":45},{"i":112,"rsi":46.7},{"i":116,"rsi":46.7},{"i":117,"rsi":51.7},{"i":119,"rsi":48.8},{"i":121,"rsi":48.8},{"i":122,"rsi":42.2},{"i":124,"rsi":50.5},{"i":126,"rsi":48.8},{"i":128,"rsi":51.7},{"i":130,"rsi":51.7},{"i":132,"rsi":57.7},{"i":133,"rsi":64.3},{"i":134,"rsi":57.7},{"i":136,"rsi":67.2},{"i":139,"rsi":60},{"i":141,"rsi":55},{"i":142,"rsi":50.5},{"i":143,"rsi":57.7},{"i":145,"rsi":52.2},{"i":147,"rsi":61.7},{"i":148,"rsi":52.2},{"i":151,"rsi":53.3},{"i":153,"rsi":58.8},{"i":154,"rsi":60},{"i":155,"rsi":52.2},{"i":158,"rsi":50.5},{"i":160,"rsi":46.7},{"i":164,"rsi":46.7},{"i":165,"rsi":46.7},{"i":167,"rsi":50.5},{"i":168,"rsi":47.7},{"i":169,"rsi":37.7},{"i":170,"rsi":38.5299}
],
"bid": [{"price": 1.17085}],
"levels": [{"level": 70}, {"level": 30}],
"logo": [{"brand": "ForexMart", "mark": "FX"}]
},
"vconcat": [
{
  "width": 700, "height": 254,
  "title": {"text": "▼  EURUSD,M30  1.17086 1.17087 1.17084 1.17085", "color": "#FFFFFF", "offset": -9, "dx": 4},
  "layer": [
    {"data": {"name": "bars"}, "mark": {"type": "rule", "strokeDash": [3, 2], "strokeWidth": 1},
     "encoding": {
       "x": {"field": "i", "type": "quantitative", "scale": {"domain": [-1, 174], "nice": false, "zero": false}, "axis": null},
       "y": {"field": "spanA", "type": "quantitative", "scale": {"domain": [1.16714, 1.18364], "nice": false, "zero": false},
             "axis": {"orient": "right", "values": [1.18215, 1.18, 1.17785, 1.1757, 1.17355, 1.17145, 1.17085, 1.1693, 1.16715], "tickCount": 50, "format": ".5f", "labelOverlap": false,
                      "labelColor": {"condition": {"test": "datum.value == 1.17085", "value": "#000000"}, "value": "#FFFFFF"},
                      "labelPadding": {"condition": {"test": "datum.value == 1.17085", "value": -34}, "value": 2},
                      "tickSize": {"condition": {"test": "datum.value == 1.17085", "value": 38}, "value": 3},
                      "tickWidth": {"condition": {"test": "datum.value == 1.17085", "value": 12}, "value": 1}}},
       "y2": {"field": "spanB"},
       "stroke": {"condition": {"test": "datum.spanA > datum.spanB", "value": "#1E5AAA"}, "value": "#3A553A"}}},
    {"data": {"name": "bars"}, "mark": {"type": "line", "strokeDash": [3, 2], "strokeWidth": 1, "color": "#1E5AAA"},
     "encoding": {"x": {"field": "i", "type": "quantitative", "axis": null}, "y": {"field": "spanA", "type": "quantitative"}}},
    {"data": {"name": "bars"}, "mark": {"type": "line", "strokeDash": [3, 2], "strokeWidth": 1, "color": "#3A553A"},
     "encoding": {"x": {"field": "i", "type": "quantitative", "axis": null}, "y": {"field": "spanB", "type": "quantitative"}}},
    {"data": {"name": "bid"}, "mark": {"type": "rule", "color": "#808080", "strokeWidth": 1},
     "encoding": {"y": {"field": "price", "type": "quantitative"}}},
    {"data": {"name": "logo"}, "mark": {"type": "point", "shape": "circle", "filled": true, "size": 540, "color": "#DF8140", "opacity": 1},
     "encoding": {"x": {"datum": 135}, "y": {"datum": 1.1815}}},
    {"data": {"name": "logo"}, "mark": {"type": "text", "font": "Liberation Sans", "fontSize": 14, "fontWeight": "bold", "color": "#1A1008", "align": "center", "baseline": "middle"},
     "encoding": {"text": {"field": "mark"}, "x": {"datum": 135}, "y": {"datum": 1.1815}}},
    {"data": {"name": "logo"}, "mark": {"type": "text", "font": "Open Sans", "fontSize": 21, "fontWeight": "bold", "color": "#DF8140", "align": "left", "baseline": "middle"},
     "encoding": {"text": {"field": "brand"}, "x": {"datum": 141.25}, "y": {"datum": 1.18127}}},
    {"data": {"name": "bars"}, "mark": {"type": "rule", "strokeWidth": 1},
     "encoding": {
       "x": {"field": "i", "type": "quantitative", "axis": null},
       "y": {"field": "low", "type": "quantitative"}, "y2": {"field": "high"},
       "stroke": {"condition": [{"test": "datum.close == datum.open", "value": "#FFFFFF"}, {"test": "datum.close > datum.open", "value": "#FFFF00"}], "value": "#00FFFF"}}},
    {"data": {"name": "bars"}, "mark": {"type": "bar", "width": 2, "strokeWidth": 1},
     "encoding": {
       "x": {"field": "i", "type": "quantitative", "axis": null},
       "y": {"field": "open", "type": "quantitative"}, "y2": {"field": "close"},
       "fill": {"condition": {"test": "datum.close > datum.open", "value": "#FFB000"}, "value": "#00FFFF"},
       "stroke": {"condition": [{"test": "datum.close == datum.open", "value": "#FFFFFF"}, {"test": "datum.close > datum.open", "value": "#FFFF00"}], "value": "#00FFFF"}}},
    {"data": {"name": "bars"}, "mark": {"type": "line", "strokeWidth": 1, "color": "#FF00FF"},
     "encoding": {"x": {"field": "i", "type": "quantitative", "axis": null}, "y": {"field": "chikou", "type": "quantitative"}}},
    {"data": {"name": "bars"}, "mark": {"type": "line", "strokeWidth": 1, "color": "#FFFF00"},
     "encoding": {"x": {"field": "i", "type": "quantitative", "axis": null}, "y": {"field": "kijun", "type": "quantitative"}}},
    {"data": {"name": "bars"}, "mark": {"type": "line", "strokeWidth": 1, "color": "#3ED4E4"},
     "encoding": {"x": {"field": "i", "type": "quantitative", "axis": null}, "y": {"field": "tenkan", "type": "quantitative"}}}
  ]
},
{
  "width": 700, "height": 61,
  "title": {"text": "MACD(12,26,9) -0.000308 -0.000100", "color": "#D8D8D8", "offset": -11, "dx": 5},
  "layer": [
    {"data": {"name": "bars"}, "mark": {"type": "bar", "width": 3, "color": "#5A5A5A"},
     "encoding": {
       "x": {"field": "i", "type": "quantitative", "scale": {"domain": [-1, 174], "nice": false, "zero": false}, "axis": null},
       "y": {"field": "macd", "type": "quantitative", "scale": {"domain": [-0.00197, 0.00137], "nice": false, "zero": false},
             "axis": {"orient": "right", "values": [0.001165, 0, -0.00196], "tickCount": 50, "labelOverlap": false, "labelFontSize": 8,
                      "labelExpr": "datum.value > 0.001 ? '0.001165' : (datum.value < -0.001 ? '-0.00196' : '0.00')",
                      "labelBaseline": {"condition": [{"test": "datum.value > 0.001", "value": "top"}, {"test": "datum.value < -0.001", "value": "bottom"}], "value": "middle"}}},
       "y2": {"datum": 0}}},
    {"data": {"name": "signal"}, "mark": {"type": "line", "color": "#00E5FF", "strokeWidth": 1},
     "encoding": {"x": {"field": "i", "type": "quantitative", "axis": null}, "y": {"field": "signal", "type": "quantitative"}}}
  ]
},
{
  "width": 700, "height": 61,
  "title": {"text": "RSI(14) 38.5299", "color": "#D8D8D8", "offset": -11, "dx": 5},
  "layer": [
    {"data": {"name": "levels"}, "mark": {"type": "rule", "color": "#6E6E6E", "strokeDash": [3, 3], "strokeWidth": 1},
     "encoding": {"y": {"field": "level", "type": "quantitative", "scale": {"domain": [0, 103.8], "nice": false, "zero": false},
        "axis": {"orient": "right", "values": [100, 70, 30, 0], "tickCount": 50, "labelOverlap": false,
                 "labelBaseline": {"condition": [{"test": "datum.value == 100", "value": "top"}, {"test": "datum.value == 0", "value": "bottom"}], "value": "middle"}}}}},
    {"data": {"name": "rsi"}, "mark": {"type": "line", "color": "#FF8000", "strokeWidth": 1},
     "encoding": {
       "x": {"field": "i", "type": "quantitative", "scale": {"domain": [-1, 174], "nice": false, "zero": false},
             "axis": {"orient": "bottom", "values": [0, 15, 31, 47, 63, 79, 95, 111, 127, 143, 159], "tickCount": 50, "labelOverlap": false, "labelFontSize": 9.5,
                      "labelExpr": "['21 May 2018','21 May 23:00','22 May 07:00','22 May 15:00','22 May 23:00','23 May 07:00','23 May 15:00','23 May 23:00','24 May 07:00','24 May 15:00','24 May 23:00'][indexof([0,15,31,47,63,79,95,111,127,143,159], datum.value)]",
                      "labelAlign": "left", "labelBaseline": "top", "labelPadding": 1}},
       "y": {"field": "rsi", "type": "quantitative"}}}
  ]
}
]
}
